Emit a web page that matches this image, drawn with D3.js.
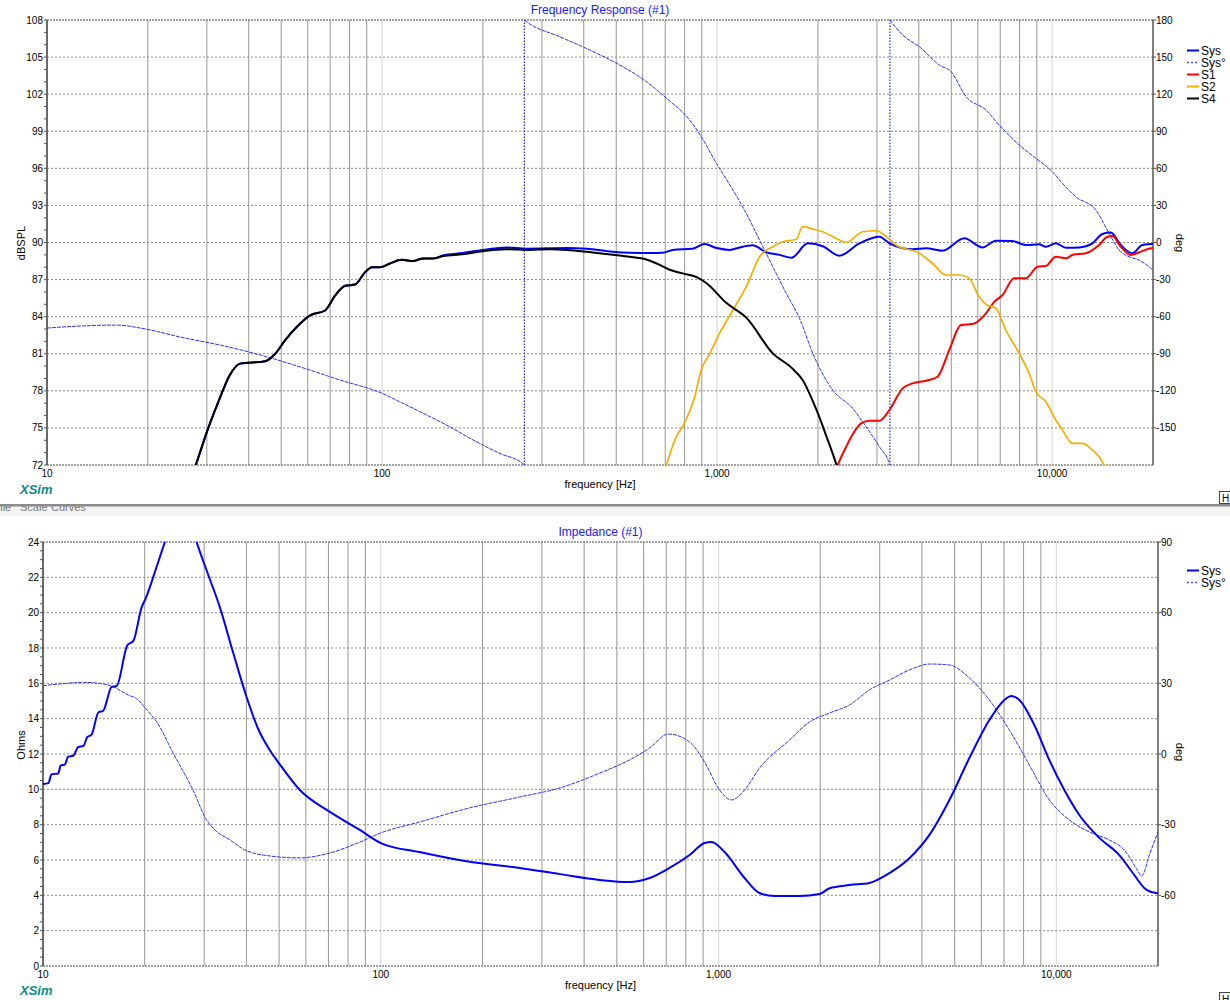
<!DOCTYPE html>
<html>
<head>
<meta charset="utf-8">
<script src="https://cdn.jsdelivr.net/npm/d3@7"></script>
<style>
body { margin: 0; background: #fff; }
svg { display: block; font-family: "Liberation Sans", Arial, sans-serif; }
</style>
</head>
<body>
<svg id="chart" width="1230" height="1000"></svg>
<script>
// ---- frequency response (top chart), [Hz, dB] ----
var sysSpl = [[20,62],[25,68.5],[27.8,72],[30.3,75],[33,77.6],[35,79.2],[37.7,80.2],[44.8,80.4],[48,81],[51.4,82.1],
  [55.8,83.2],[61,84.1],[67.6,84.5],[72.4,85.7],[77.6,86.5],[83.1,86.6],[89,87.6],[93.4,88.0],[98.6,88.0],[105.6,88.3],
  [114.5,88.6],[123.7,88.5],[132.5,88.7],[141.9,88.7],[152,88.95],[174,89.15],[200,89.4],[236,89.6],[270,89.5],[356,89.55],
  [408,89.5],[488,89.25],[548,89.17],[629,89.15],[688,89.17],[737,89.4],[845,89.5],[918,89.87],[997,89.55],[1090,89.4],
  [1167,89.6],[1276,89.77],[1405,89.2],[1536,89.0],[1668,88.77],[1865,89.93],[2067,89.7],[2318,88.93],[2659,89.93],[3051,90.47],
  [3268,89.93],[3833,89.45],[4203,89.53],[4710,89.34],[5467,90.34],[6197,89.6],[6794,90.15],[7612,90.12],[8348,89.8],[9146,89.85],
  [9575,89.66],[10254,89.93],[10985,89.58],[12035,89.6],[13187,89.93],[14123,90.69],[14958,90.8],[16024,89.8],[17354,89.13],
  [18587,89.8],[20000,89.87]];

var s1Spl = [[2000,67],[2291,72],[2427,73.48],[2690,75.37],[2848,75.58],[3051,75.58],[3268,76.45],[3579,78.2],[3833,78.6],
  [4203,78.82],[4551,79.14],[4931,81.3],[5344,83.32],[5787,83.4],[6346,84.27],[6716,85.2],[7112,85.75],[7702,87.1],[8348,87.1],
  [9042,88.04],[9575,88.1],[10254,88.85],[10985,88.72],[11497,88.99],[12601,89.13],[13808,89.8],[14613,90.47],[15123,90.53],
  [16024,89.66],[17168,88.99],[18385,89.26],[19690,89.53],[20000,89.55]];

var s2Spl = [[600,66],[705,72],[756,74.3],[800,75.4],[857,77.5],[897,79.7],[950,81.0],[1017,82.65],[1115,84.54],[1222,86.43],
  [1339,88.85],[1467,89.66],[1571,90.06],[1722,90.26],[1803,91.28],[1930,91.1],[2067,90.87],[2318,90.2],[2427,90.0],[2720,90.87],
  [2983,90.95],[3204,90.47],[3422,89.8],[4014,89.13],[4398,88.3],[4824,87.37],[5283,87.37],[5657,87.1],[6060,85.6],[6346,85.0],
  [6794,84.67],[7278,82.9],[7973,81.03],[8541,79.4],[8942,77.93],[9575,77.12],[10254,75.64],[10732,74.83],[11497,73.75],
  [12313,73.75],[13187,73.2],[13808,72.67],[14289,72],[16000,69]];

var s4Spl = [[20,62],[25,68.5],[27.8,72],[30.3,75],[33,77.6],[35,79.2],[37.7,80.2],[44.8,80.4],[48,81],[51.4,82.1],
  [55.8,83.2],[61,84.1],[67.6,84.5],[72.4,85.7],[77.6,86.5],[83.1,86.6],[89,87.6],[93.4,88.0],[98.6,88.0],[105.6,88.3],
  [114.5,88.6],[123.7,88.5],[132.5,88.7],[141.9,88.7],[152,88.9],[174,89.05],[200,89.3],[236,89.45],[270,89.4],[317,89.45],
  [356,89.4],[408,89.25],[488,89.0],[548,88.85],[600,88.7],[660,88.3],[722,87.8],[789,87.5],[869,87.2],[930,86.7],
  [1067,85.1],[1224,83.9],[1464,81.05],[1679,79.8],[1798,78.9],[1980,76.45],[2121,74.3],[2266,72.1],[2500,68]];

// system phase, [Hz, deg] (wraps at +-180)
var sysPhase = [[10,-69.2],[12.6,-67.6],[16,-66.8],[19.7,-70],[25,-76.5],[32.9,-83],[43.3,-91],[57,-100.7],[75,-111.3],
  [100,-122],[112.8,-128.8],[132.8,-138.2],[155.9,-147.7],[187.1,-159.8],[224.7,-170.6],[264,-179.2],[266,-180],
  [266,180],[270,178.6],[339,166.5],[417,155.7],[512,143.6],[605,131.5],[706,116.7],[828,99.1],[897,85.6],[995,64.1],
  [1115,42.5],[1222,23.6],[1339,2.0],[1467,-19.6],[1608,-41.1],[1762,-61.3],[1930,-89.7],[2214,-119.4],[2540,-134.2],
  [2783,-149],[3051,-165.2],[3268,-178.7],[3280,-180],
  [3280,180],[3579,167.9],[4014,158.4],[4604,143.6],[4991,138.2],[5532,118],[6346,107.2],[6950,95],[7973,78.9],
  [8942,68.1],[10020,57.3],[10732,47.9],[11763,37],[13498,26.3],[14789,7.4],[15840,-6.1],[16966,-11.5],[18171,-14.2],
  [20000,-22.3]];

// ---- impedance (bottom chart) ----
var sysOhms = [[10,10.3],[10.37,10.35],[10.6,10.85],[11.1,10.9],[11.28,11.35],[11.6,11.4],[11.88,11.85],[12.29,11.9],
  [12.72,12.4],[13.16,12.45],[13.52,12.95],[13.93,13.1],[14.58,14.35],[15.08,14.45],[15.97,15.8],[16.52,15.85],
  [17.77,18.15],[18.51,18.4],[19.59,20.3],[20.13,20.8],[21.7,22.6],[22.96,24],[25,25.8],[27,25.6],[28.5,24],[30.5,22.4],
  [33.4,20.3],[36.6,17.7],[40.1,15.2],[43.4,13.4],[47,12.2],[50.3,11.4],[57.6,9.96],[70.7,8.72],[86.7,7.7],[100,6.96],
  [130,6.45],[183,5.9],[258,5.55],[339,5.2],[445,4.87],[545,4.75],[625,4.98],[716,5.55],[821,6.28],[909,6.96],[954,7.02],
  [1042,6.45],[1194,4.98],[1322,4.13],[1465,3.96],[1736,3.96],[1990,4.07],[2131,4.4],[2441,4.58],[2797,4.7],[3206,5.26],
  [3673,6.1],[4210,7.42],[4825,9.4],[5528,11.77],[6336,13.92],[7020,15.06],[7360,15.28],[7772,15.06],[8607,13.64],
  [9535,11.66],[10561,9.96],[11695,8.55],[13407,7.25],[15364,6.28],[17016,5.15],[18210,4.42],[19000,4.2],[20000,4.12]];

var sysOhmsPhase = [[10,29],[11.75,30],[13.2,30.4],[14.7,30],[16.1,28.6],[17.9,25],[18.9,23.6],[20.3,18.7],[21.7,13.7],
  [24.3,0.3],[27.8,-15.3],[30.5,-28],[32.3,-32.3],[35.8,-36.5],[39.6,-40.75],[47,-43.3],[57.6,-44.1],[70.7,-42],
  [86.7,-37.4],[100,-33.5],[130,-28.9],[183,-22.9],[258,-18.25],[339,-14.4],[445,-8.1],[545,-2.5],[625,2.55],[710,8.5],
  [821,5.1],[909,-3.4],[1007,-15.3],[1093,-19.5],[1194,-15.3],[1322,-6],[1622,5.9],[1859,13.6],[2131,17.4],[2441,20.8],
  [2797,27.2],[3206,31.4],[3673,35.7],[4210,38.2],[4825,37.8],[5528,32.3],[6336,22.9],[7261,10.2],[8322,-4.7],
  [9535,-19.5],[10927,-28],[12520,-33.1],[14350,-36.5],[15897,-40.75],[17361,-49.2],[17900,-51.8],[18844,-42.9],
  [20000,-33.1]];

var xTickLabels = [10, 100, 1000, 10000];
var splTicks = d3.range(72, 109, 3);
var ohmTicks = d3.range(0, 25, 2);
var splPhaseTicks = d3.range(-150, 181, 30);
var ohmPhaseTicks = d3.range(-60, 91, 30);
var menuWords = ["File", "Scale", "Curves"];

var svg = d3.select("#chart");

// split a wrapped phase curve where two points share a frequency
function splitRuns(data) {
  var out = [], cur = [data[0]];
  for (var i = 1; i < data.length; i++) {
    if (data[i][0] === data[i - 1][0]) { out.push(cur); cur = [data[i]]; }
    else cur.push(data[i]);
  }
  out.push(cur);
  return out;
}

function drawPanel(cfg, idx) {
  var x = d3.scaleLog().domain([10, 20000]).range([cfg.left, cfg.right]);
  var y = d3.scaleLinear().domain(cfg.yDomain).range([cfg.bottom, cfg.top]);
  var yp = d3.scaleLinear().domain(cfg.pDomain).range([cfg.bottom, cfg.top]);
  var g = svg.append("g");

  // vertical grid
  var vlines = [];
  [10, 100, 1000, 10000].forEach(function (d) {
    for (var m = 1; m < 10; m++) {
      var f = d * m;
      if (f > 10 && f < 20000) vlines.push({f: f, decade: m === 1});
    }
  });
  g.selectAll(".vg").data(vlines).enter().append("line")
    .attr("x1", function (d) { return x(d.f); }).attr("x2", function (d) { return x(d.f); })
    .attr("y1", cfg.top).attr("y2", cfg.bottom)
    .attr("stroke", function (d) { return d.decade ? "#d6d6d6" : "#979797"; })
    .attr("stroke-width", 1);

  // horizontal dotted grid
  g.selectAll(".hg").data(cfg.yTicks.slice(1, -1)).enter().append("line")
    .attr("x1", cfg.left).attr("x2", cfg.right)
    .attr("y1", function (d) { return y(d); }).attr("y2", function (d) { return y(d); })
    .attr("stroke", "#8a8a8a").attr("stroke-dasharray", "2,2");

  // top / bottom border
  [cfg.top, cfg.bottom].forEach(function (yy) {
    g.append("line").attr("x1", cfg.left).attr("x2", cfg.right).attr("y1", yy).attr("y2", yy)
      .attr("stroke", "#4a4a4a").attr("stroke-dasharray", "2,1");
  });

  // left axis with minor ticks
  g.append("line").attr("x1", cfg.left).attr("x2", cfg.left).attr("y1", cfg.top).attr("y2", cfg.bottom)
    .attr("stroke", "#6a6a6a").attr("stroke-width", 2);
  g.selectAll(".mt").data(d3.range(cfg.yDomain[0], cfg.yDomain[1] + 0.001, cfg.minor)).enter().append("line")
    .attr("x1", cfg.left - 3).attr("x2", cfg.left)
    .attr("y1", function (d) { return y(d); }).attr("y2", function (d) { return y(d); })
    .attr("stroke", "#555");
  g.selectAll(".yl").data(cfg.yTicks).enter().append("text")
    .attr("x", cfg.left - 4).attr("y", function (d) { return y(d) + 3.5; })
    .attr("text-anchor", "end").attr("font-size", 10).text(function (d) { return d; });

  // right axis
  g.append("line").attr("x1", cfg.right).attr("x2", cfg.right).attr("y1", cfg.top).attr("y2", cfg.bottom)
    .attr("stroke", "#555").attr("stroke-width", 1.5);
  g.selectAll(".pt").data(cfg.pTicks).enter().append("line")
    .attr("x1", cfg.right).attr("x2", cfg.right + 3)
    .attr("y1", function (d) { return yp(d); }).attr("y2", function (d) { return yp(d); })
    .attr("stroke", "#555");
  g.selectAll(".pl").data(cfg.pTicks).enter().append("text")
    .attr("x", cfg.right + 3).attr("y", function (d) { return yp(d) + 3.5; })
    .attr("font-size", 10).text(function (d) { return d; });

  // x labels
  g.selectAll(".xl").data(xTickLabels).enter().append("text")
    .attr("x", function (d) { return x(d); }).attr("y", cfg.bottom + 12)
    .attr("text-anchor", "middle").attr("font-size", 10).text(d3.format(","));
  g.append("text").attr("x", (cfg.left + cfg.right) / 2).attr("y", cfg.bottom + 23)
    .attr("text-anchor", "middle").attr("font-size", 11).text("frequency [Hz]");

  // titles
  g.append("text").attr("x", (cfg.left + cfg.right) / 2).attr("y", cfg.top - 6)
    .attr("text-anchor", "middle").attr("font-size", 12).attr("fill", "#1a1aff").text(cfg.title);
  g.append("text").attr("transform", "translate(25," + cfg.yLabelPos + ") rotate(-90)")
    .attr("text-anchor", "middle").attr("font-size", 11).text(cfg.yLabel);
  g.append("text").attr("transform", "translate(1176," + cfg.pLabelPos + ") rotate(90)")
    .attr("text-anchor", "middle").attr("font-size", 11).text("deg");

  // curves
  var clipId = "clip" + idx;
  svg.append("clipPath").attr("id", clipId).append("rect")
    .attr("x", cfg.left).attr("y", cfg.top).attr("width", cfg.right - cfg.left).attr("height", cfg.bottom - cfg.top);
  var plot = g.append("g").attr("clip-path", "url(#" + clipId + ")");

  var phaseLine = d3.line().x(function (d) { return x(d[0]); }).y(function (d) { return yp(d[1]); }).curve(d3.curveMonotoneX);
  var jumpLine = d3.line().x(function (d) { return x(d[0]); }).y(function (d) { return yp(d[1]); });
  var runs = splitRuns(cfg.phase);
  runs.forEach(function (r, i) {
    plot.append("path").attr("d", phaseLine(r)).attr("fill", "none")
      .attr("stroke", "#3030ff").attr("stroke-width", 1).attr("stroke-dasharray", "4,1");
    if (i > 0) {
      var prev = runs[i - 1];
      plot.append("path").attr("d", jumpLine([prev[prev.length - 1], r[0]])).attr("fill", "none")
        .attr("stroke", "#2020ff").attr("stroke-width", 1.2).attr("stroke-dasharray", "1.5,1.5");
    }
  });

  var magLine = d3.line().x(function (d) { return x(d[0]); }).y(function (d) { return y(d[1]); }).curve(d3.curveMonotoneX);
  cfg.series.forEach(function (s) {
    plot.append("path").attr("d", magLine(s.data)).attr("fill", "none")
      .attr("stroke", s.color).attr("stroke-width", s.width).attr("stroke-linejoin", "round");
  });

  // legend
  var leg = g.selectAll(".lg").data(cfg.legend).enter().append("g")
    .attr("transform", function (d, i) { return "translate(1187," + (cfg.legendY + i * 12) + ")"; });
  leg.append("line").attr("x1", 0).attr("x2", 12).attr("y1", 0).attr("y2", 0)
    .attr("stroke", function (d) { return d.color; }).attr("stroke-width", function (d) { return d.dash ? 1.5 : 2; })
    .attr("stroke-dasharray", function (d) { return d.dash ? "2,2" : null; });
  leg.append("text").attr("x", 14).attr("y", 4.5).attr("font-size", 12).text(function (d) { return d.name; });

  // XSim mark
  g.append("text").attr("x", 20).attr("y", cfg.bottom + 29).attr("font-size", 13)
    .attr("font-weight", "bold").attr("font-style", "italic").attr("fill", "#0b8a8a").text("XSim");
}

drawPanel({
  left: 47, right: 1153, top: 20, bottom: 465,
  yDomain: [72, 108], yTicks: splTicks, minor: 1,
  pDomain: [-180, 180], pTicks: splPhaseTicks,
  title: "Frequency Response (#1)", yLabel: "dBSPL", yLabelPos: 243, pLabelPos: 243,
  phase: sysPhase,
  series: [
    {data: sysSpl, color: "#0000ff", width: 2},
    {data: s1Spl, color: "#ff0000", width: 2},
    {data: s2Spl, color: "#f7ad00", width: 1.7},
    {data: s4Spl, color: "#000000", width: 2}
  ],
  legendY: 50.5,
  legend: [
    {name: "Sys", color: "#0000ff"}, {name: "Sys°", color: "#5050ff", dash: true},
    {name: "S1", color: "#ff0000"}, {name: "S2", color: "#f7ad00"}, {name: "S4", color: "#000000"}
  ]
}, 0);

drawPanel({
  left: 43, right: 1158, top: 542, bottom: 966,
  yDomain: [0, 24], yTicks: ohmTicks, minor: 0.5,
  pDomain: [-90, 90], pTicks: ohmPhaseTicks,
  title: "Impedance (#1)", yLabel: "Ohms", yLabelPos: 745, pLabelPos: 752,
  phase: sysOhmsPhase,
  series: [{data: sysOhms, color: "#0000ff", width: 2}],
  legendY: 570.5,
  legend: [{name: "Sys", color: "#0000ff"}, {name: "Sys°", color: "#5050ff", dash: true}]
}, 1);

// window splitter between the two graphs, its menu bar mostly hidden
var sep = svg.append("g");
svg.append("clipPath").attr("id", "menuclip").append("rect").attr("x", 0).attr("y", 506).attr("width", 300).attr("height", 10);
sep.append("rect").attr("x", 0).attr("y", 506).attr("width", 1230).attr("height", 10).attr("fill", "#f3f3f3");
sep.selectAll(".menu").data(menuWords).enter().append("text")
  .attr("clip-path", "url(#menuclip)")
  .attr("x", function (d, i) { return [-6.5, 20, 51][i]; })
  .attr("y", 511).attr("font-size", 11).attr("fill", "#777").text(function (d) { return d; });
sep.append("rect").attr("x", 0).attr("y", 504).attr("width", 1230).attr("height", 2.5).attr("fill", "#8c8c8c");

// small "H" buttons at the right edge
[491, 992].forEach(function (yy) {
  svg.append("rect").attr("x", 1219.5).attr("y", yy + 0.5).attr("width", 12).attr("height", 12)
    .attr("fill", "#fff").attr("stroke", "#444");
  svg.append("text").attr("x", 1222).attr("y", yy + 10.5).attr("font-size", 10).text("H");
});
</script>
</body>
</html>
